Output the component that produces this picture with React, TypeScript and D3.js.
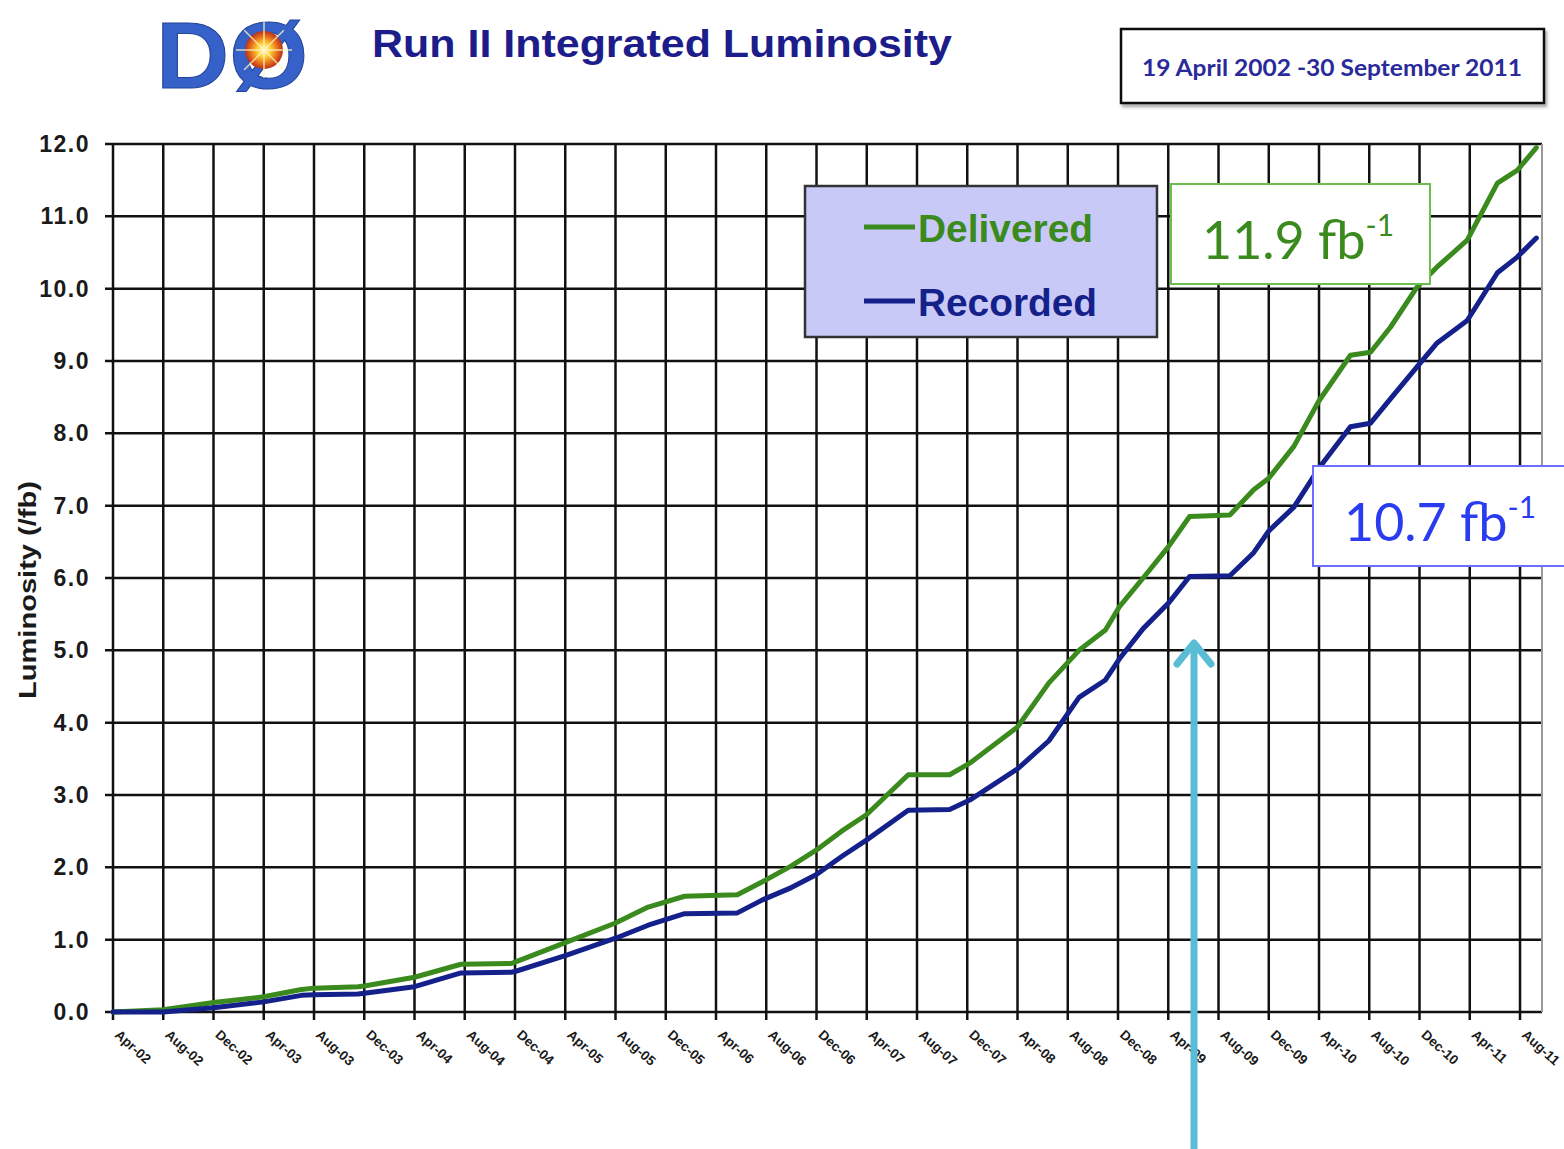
import React from "react";
import * as d3 from "d3";

// ---- Data (months since Apr 2002, integrated luminosity in fb^-1) ----
const months = [0, 4, 8, 12, 15, 16, 19.5, 20, 24, 27.7, 31.7, 32, 36, 40, 42.6, 45.5, 49.7, 51.7, 54, 56, 58, 60, 63.3, 66.6, 68.2, 72, 74.5, 76.9, 79, 80.1, 82, 84, 85.7, 88.9, 90.8, 92, 94, 96, 98.5, 100.1, 101.7, 103.8, 105.4, 107.8, 110.2, 111.8, 113.3];
const delivered = [0, 0.03, 0.13, 0.21, 0.31, 0.33, 0.35, 0.36, 0.48, 0.66, 0.67, 0.69, 0.96, 1.23, 1.45, 1.6, 1.62, 1.8, 2.02, 2.24, 2.5, 2.73, 3.28, 3.28, 3.44, 3.94, 4.55, 5.0, 5.28, 5.6, 6.0, 6.43, 6.85, 6.87, 7.22, 7.38, 7.82, 8.45, 9.08, 9.12, 9.47, 10.02, 10.3, 10.67, 11.46, 11.64, 11.95];
const recorded = [0, 0.0, 0.06, 0.14, 0.23, 0.24, 0.25, 0.26, 0.35, 0.54, 0.55, 0.56, 0.78, 1.02, 1.2, 1.36, 1.37, 1.55, 1.72, 1.9, 2.15, 2.38, 2.79, 2.8, 2.93, 3.36, 3.75, 4.35, 4.59, 4.88, 5.3, 5.65, 6.02, 6.03, 6.35, 6.65, 6.98, 7.52, 8.09, 8.14, 8.48, 8.92, 9.25, 9.56, 10.22, 10.44, 10.7];

const xTickLabels = [
  "Apr-02", "Aug-02", "Dec-02", "Apr-03", "Aug-03", "Dec-03", "Apr-04", "Aug-04", "Dec-04",
  "Apr-05", "Aug-05", "Dec-05", "Apr-06", "Aug-06", "Dec-06", "Apr-07", "Aug-07", "Dec-07",
  "Apr-08", "Aug-08", "Dec-08", "Apr-09", "Aug-09", "Dec-09", "Apr-10", "Aug-10", "Dec-10",
  "Apr-11", "Aug-11",
];
const yTicks = [0, 1, 2, 3, 4, 5, 6, 7, 8, 9, 10, 11, 12];

const seriesNames = ["Delivered", "Recorded"];
const totals = ["11.9", "10.7"];

const GREEN = "#3b8a1e";
const BLUE = "#15218a";

export default function App() {
  const left = 113, right = 1542, top = 144, bottom = 1012;
  const x = d3.scaleLinear().domain([0, 113.75]).range([left, right]);
  const y = d3.scaleLinear().domain([0, 12]).range([bottom, top]);
  const xTickMonths = xTickLabels.map((_, i) => i * 4);

  const line = d3
    .line<number>()
    .x((_, i) => x(months[i]))
    .y((d) => y(d));

  const sans = "'Liberation Sans', Arial, sans-serif";
  const cal = "Lato, 'Open Sans', sans-serif";

  return (
    <svg
      width={1564}
      height={1149}
      style={{ position: "absolute", left: 0, top: 0, display: "block", background: "#fff" }}
    >
      <defs>
        <radialGradient id="burst" cx="50%" cy="50%" r="50%">
          <stop offset="0%" stopColor="#fffde0" />
          <stop offset="35%" stopColor="#ffd23a" />
          <stop offset="70%" stopColor="#e8741a" />
          <stop offset="100%" stopColor="#b8301a" />
        </radialGradient>
        <filter id="shadow" x="-5%" y="-5%" width="115%" height="130%">
          <feDropShadow dx="2" dy="3" stdDeviation="1.5" floodColor="#555" floodOpacity="0.5" />
        </filter>
      </defs>

      {/* Logo */}
      <g>
        <text x={156} y={88} fontFamily={sans} fontWeight="bold" fontSize={94} fill="#3561c8"
          stroke="#24449a" strokeWidth={1}
          textLength={152} lengthAdjust="spacingAndGlyphs">DØ</text>
        <circle cx={264} cy={50} r={19} fill="url(#burst)" />
        {[0, 45, 90, 135].map((a) => (
          <line key={a}
            x1={264 + 28 * Math.cos((a * Math.PI) / 180)} y1={50 + 28 * Math.sin((a * Math.PI) / 180)}
            x2={264 - 28 * Math.cos((a * Math.PI) / 180)} y2={50 - 28 * Math.sin((a * Math.PI) / 180)}
            stroke="#fff6c0" strokeWidth={1.5} opacity={0.8} />
        ))}
      </g>

      {/* Title */}
      <text x={372} y={57} fontFamily={sans} fontWeight="bold" fontSize={39} fill="#1c1c8a"
        textLength={580} lengthAdjust="spacingAndGlyphs">Run II Integrated  Luminosity</text>

      {/* Date box */}
      <rect x={1121} y={29} width={423} height={74} fill="#fff" stroke="#111" strokeWidth={2.5} filter="url(#shadow)" />
      <text x={1142} y={76} fontFamily={cal} fontWeight="bold" fontSize={22} fill="#2a2a9a"
        textLength={380} lengthAdjust="spacingAndGlyphs">19 April 2002 -30 September 2011</text>

      {/* Grid */}
      <g stroke="#111" strokeWidth={2.5}>
        {yTicks.map((t) => (
          <line key={"h" + t} x1={left - 8} x2={right} y1={y(t)} y2={y(t)} />
        ))}
        {xTickMonths.map((m) => (
          <line key={"v" + m} x1={x(m)} x2={x(m)} y1={top} y2={bottom + 8} />
        ))}
      </g>
      <line x1={right} x2={right} y1={top} y2={bottom} stroke="#999" strokeWidth={2} />

      {/* Y tick labels */}
      {yTicks.map((t) => (
        <text key={"yl" + t} x={90} y={y(t) + 8} textAnchor="end" fontFamily={sans} fontWeight="bold"
          fontSize={23} letterSpacing={1.5} fill="#1a1a1a">{t.toFixed(1)}</text>
      ))}
      <text transform={`translate(36,590) rotate(-90)`} textAnchor="middle" fontFamily={sans}
        fontWeight="bold" fontSize={24} fill="#1a1a1a" textLength={218} lengthAdjust="spacingAndGlyphs">Luminosity (/fb)</text>

      {/* X tick labels */}
      {xTickLabels.map((lab, i) => (
        <text key={lab} transform={`translate(${x(xTickMonths[i]) + 1},${1036}) rotate(42)`}
          fontFamily={sans} fontWeight="bold" fontSize={13.5} fill="#1a1a1a">{lab}</text>
      ))}

      {/* Series */}
      <path d={line(delivered) || ""} fill="none" stroke={GREEN} strokeWidth={5} strokeLinejoin="round" strokeLinecap="round" />
      <path d={line(recorded) || ""} fill="none" stroke={BLUE} strokeWidth={5} strokeLinejoin="round" strokeLinecap="round" />

      {/* Legend */}
      <rect x={805} y={186} width={352} height={151} fill="#c9c9f7" stroke="#333" strokeWidth={2.5} />
      <line x1={864} x2={915} y1={227} y2={227} stroke={GREEN} strokeWidth={5} />
      <text x={918} y={242} fontFamily={sans} fontWeight="bold" fontSize={38} fill={GREEN}
        textLength={175} lengthAdjust="spacingAndGlyphs">{seriesNames[0]}</text>
      <line x1={864} x2={915} y1={301} y2={301} stroke={BLUE} strokeWidth={5} />
      <text x={918} y={316} fontFamily={sans} fontWeight="bold" fontSize={38} fill={BLUE}
        textLength={179} lengthAdjust="spacingAndGlyphs">{seriesNames[1]}</text>

      {/* Annotation boxes */}
      <rect x={1171} y={184} width={259} height={100} fill="#fff" stroke="#6cbf4c" strokeWidth={2} />
      <text x={1202} y={259} fontFamily={cal} fontSize={52} fill={GREEN}>
        {totals[0]} fb<tspan dy={-23} fontSize={30}>-1</tspan>
      </text>
      <rect x={1313} y={466} width={260} height={100} fill="#fff" stroke="#6d6dff" strokeWidth={2} />
      <text x={1344} y={541} fontFamily={cal} fontSize={52} fill="#2a3cf0">
        {totals[1]} fb<tspan dy={-23} fontSize={30}>-1</tspan>
      </text>

      {/* Arrow */}
      <g stroke="#5bbcd6" strokeWidth={7} fill="none" strokeLinecap="round" strokeLinejoin="round">
        <line x1={1194} x2={1194} y1={1149} y2={645} />
        <polyline points="1177,664 1194,643 1211,664" />
      </g>
    </svg>
  );
}
